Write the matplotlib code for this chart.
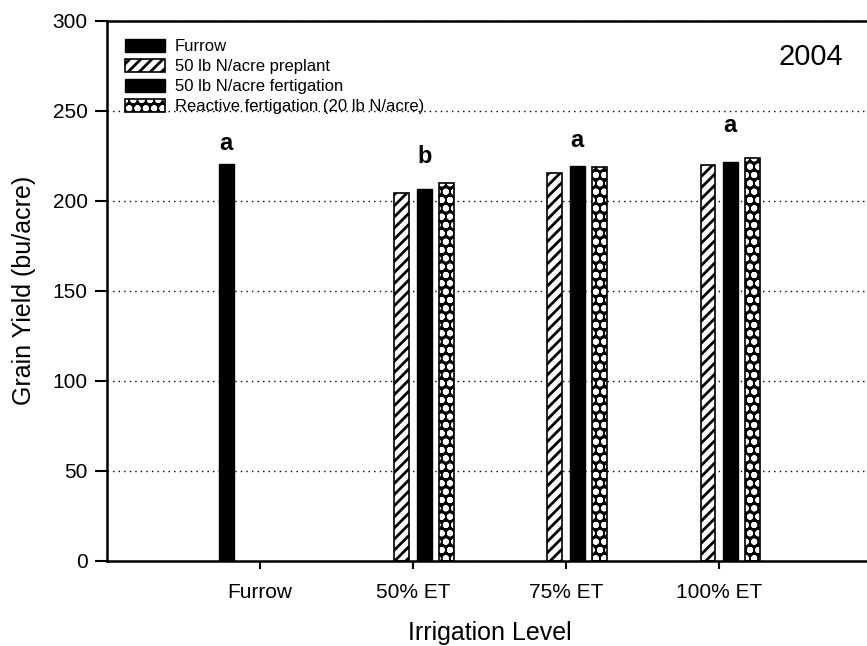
import numpy as np
import matplotlib
matplotlib.use('Agg')
import matplotlib.pyplot as plt

plt.rcParams['font.family'] = ['Liberation Sans', 'DejaVu Sans']
plt.rcParams['hatch.linewidth'] = 2.0

# ---------- Date ----------
categories = ['Furrow', '50% ET', '75% ET', '100% ET']
series_names = ['Furrow', '50 lb N/acre preplant', '50 lb N/acre fertigation',
                'Reactive fertigation (20 lb N/acre)']
furrow = [220.5, np.nan, np.nan, np.nan]
preplant = [np.nan, 204.5, 215.5, 220.0]
fertigation = [np.nan, 206.5, 219.0, 221.5]
reactive = [np.nan, 210.0, 218.5, 223.5]
letters = ['a', 'b', 'a', 'a']
letter_y = [228, 221, 230, 238]
year = '2004'

x = np.arange(1, len(categories) + 1)
step = 0.147
width = 0.095

fig = plt.figure(figsize=(8.67, 6.46), dpi=100)
ax = fig.add_axes([0.1234, 0.132, 0.8824, 0.836])

ax.grid(True, axis='y', linestyle=(0, (1, 3)), color='black', linewidth=1.0)
ax.set_axisbelow(True)

h1 = ax.bar(x - 1.5 * step, furrow, width, color='black', edgecolor='black',
            linewidth=1)
h2 = ax.bar(x - 0.5 * step, preplant, width, color='white', edgecolor='black',
            hatch='///', linewidth=1.2)
h3 = ax.bar(x + 0.5 * step, fertigation, width, color='black', edgecolor='black',
            linewidth=1)
# fertigare reactiva: fond negru cu puncte albe, apoi conturul negru
h4a = ax.bar(x + 1.5 * step, reactive, width, color='black', edgecolor='white',
             hatch='oo', linewidth=0)
h4b = ax.bar(x + 1.5 * step, reactive, width, fill=False, edgecolor='black',
             linewidth=1.2)

# litere de semnificatie
letter_x = [x[0] - 1.5 * step] + list(x[1:] + 0.5 * step)
for lx, ly, t in zip(letter_x, letter_y, letters):
    ax.text(lx, ly, t, ha='center', va='baseline', fontsize=17,
            fontweight='bold')

ax.text(4.6, 280, year, ha='center', va='center', fontsize=21)

ax.set_xlim(0, 5)
ax.set_ylim(0, 300)
ax.set_yticks(np.arange(0, 301, 50))
ax.set_xticks(x)
ax.set_xticklabels(categories)
ax.tick_params(axis='both', labelsize=15, direction='out', width=1.5)
ax.tick_params(axis='y', length=9, pad=5)
ax.tick_params(axis='x', length=6, pad=10)

ax.spines['right'].set_visible(False)
for s in ['left', 'top', 'bottom']:
    ax.spines[s].set_linewidth(1.8)

ax.set_xlabel('Irrigation Level', fontsize=18, labelpad=14)
ax.set_ylabel('Grain Yield (bu/acre)', fontsize=18, labelpad=12)

ax.legend([h1, h2, h3, (h4a, h4b)], series_names, loc='upper left',
          bbox_to_anchor=(0.01, 0.985), frameon=False, fontsize=12,
          handlelength=2.4, handleheight=0.8, labelspacing=0.3,
          handletextpad=0.6, borderaxespad=0.2)

plt.savefig('out.png', dpi=100)
